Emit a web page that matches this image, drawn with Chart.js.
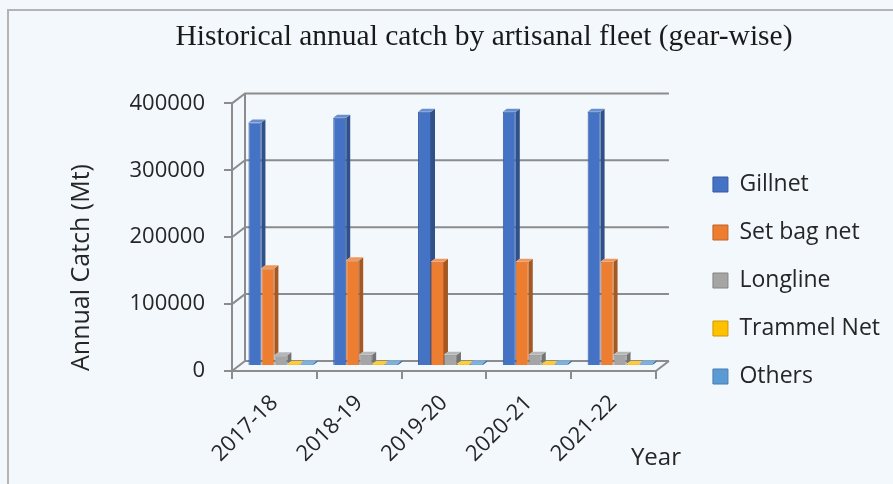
<!DOCTYPE html>
<html>
<head>
<meta charset="utf-8">
<title>Artisanal fleet catch</title>
<script src="https://cdn.jsdelivr.net/npm/chart.js@4.4.0/dist/chart.umd.min.js"></script>
<style>
  html, body { margin: 0; padding: 0; background: #f3f8fc; }
  #wrap { width: 893px; height: 484px; }
</style>
</head>
<body>
<div id="wrap"><canvas id="catchChart" width="893" height="484"></canvas></div>
<script>
const years = ["2017-18", "2018-19", "2019-20", "2020-21", "2021-22"];
const gillnet = [364000, 371000, 380000, 380000, 380000];
const setBagNet = [146000, 158000, 156000, 156000, 156000];
const longline = [16000, 17000, 17000, 17000, 17000];
const trammelNet = [3000, 3000, 3000, 3000, 3000];
const others = [4000, 4000, 4000, 4000, 4000];
const yTicks = [0, 100000, 200000, 300000, 400000];

// depth of the floor / back wall
const DX = 13, DY = -10;
const SANS = "'Open Sans', sans-serif";

function shade(hex, f) {
  const n = parseInt(hex.slice(1), 16);
  let r = (n >> 16) & 255, g = (n >> 8) & 255, b = n & 255;
  const m = c => Math.max(0, Math.min(255, Math.round(f > 0 ? c + (255 - c) * f : c * (1 + f))));
  return `rgb(${m(r)},${m(g)},${m(b)})`;
}

const walls3d = {
  id: "walls3d",
  beforeDraw(chart) {
    const ctx = chart.ctx;
    ctx.save();
    ctx.fillStyle = "#f3f8fc";
    ctx.fillRect(0, 0, chart.width, chart.height);
    ctx.strokeStyle = "#b4b4b4";
    ctx.lineWidth = 2;
    ctx.beginPath();
    ctx.moveTo(8, chart.height);
    ctx.lineTo(8, 10);
    ctx.lineTo(chart.width, 10);
    ctx.stroke();
    ctx.restore();
  },
  beforeDatasetsDraw(chart) {
    const ctx = chart.ctx;
    const y = chart.scales.y;
    const x = chart.scales.x;
    const l = x.left, r = x.right;
    ctx.save();
    ctx.strokeStyle = "#8c8c8c";
    ctx.lineWidth = 2;
    yTicks.forEach(v => {
      const py = y.getPixelForValue(v);
      ctx.beginPath();
      ctx.moveTo(l, py);
      ctx.lineTo(l + DX, py + DY);
      ctx.lineTo(r + DX, py + DY);
      ctx.stroke();
    });
    const top = y.getPixelForValue(400000), bot = y.getPixelForValue(0);
    ctx.beginPath();
    ctx.moveTo(l + DX, top + DY);
    ctx.lineTo(l + DX, bot + DY);
    ctx.moveTo(r, bot);
    ctx.lineTo(r + DX, bot + DY);
    ctx.stroke();
    ctx.restore();

    // bars stand halfway into the depth of the floor
    ctx.save();
    ctx.translate(DX / 2, DY / 2);
  },
  afterDatasetsDraw(chart) {
    const ctx = chart.ctx;
    const d = 4, dd = -3;
    const metas = chart.data.datasets.map((_, i) => chart.getDatasetMeta(i));
    years.forEach((_, j) => {
      metas.forEach((meta, i) => {
        const bar = meta.data[j];
        const color = chart.data.datasets[i].backgroundColor;
        const w = bar.width, lx = bar.x - w / 2, rx = bar.x + w / 2;
        const next = metas[i + 1] ? metas[i + 1].data[j] : null;
        const sideBottom = next ? Math.min(bar.base, next.y) : bar.base;
        if (sideBottom > bar.y) {
          ctx.fillStyle = shade(color, -0.3);
          ctx.beginPath();
          ctx.moveTo(rx, bar.y);
          ctx.lineTo(rx + d, bar.y + dd);
          ctx.lineTo(rx + d, sideBottom + dd);
          ctx.lineTo(rx, sideBottom);
          ctx.closePath();
          ctx.fill();
        }
        ctx.fillStyle = shade(color, 0.2);
        ctx.beginPath();
        ctx.moveTo(lx, bar.y);
        ctx.lineTo(rx, bar.y);
        ctx.lineTo(rx + d, bar.y + dd);
        ctx.lineTo(lx + d, bar.y + dd);
        ctx.closePath();
        ctx.fill();
      });
    });
    ctx.restore();
  },
  afterDraw(chart) {
    const ctx = chart.ctx;
    ctx.save();
    ctx.font = "24px " + SANS;
    ctx.fillStyle = "#262626";
    ctx.textAlign = "left";
    ctx.textBaseline = "middle";
    ctx.fillText("Year", chart.scales.x.right - 25, 458);
    ctx.restore();
  }
};

const series = [
  { label: "Gillnet", data: gillnet, color: "#4472c4" },
  { label: "Set bag net", data: setBagNet, color: "#ed7d31" },
  { label: "Longline", data: longline, color: "#a5a5a5" },
  { label: "Trammel Net", data: trammelNet, color: "#ffc000" },
  { label: "Others", data: others, color: "#5b9bd5" }
];

new Chart(document.getElementById("catchChart"), {
  type: "bar",
  data: {
    labels: years,
    datasets: series.map(s => ({
      label: s.label,
      data: s.data,
      backgroundColor: s.color,
      borderColor: shade(s.color, -0.2),
      borderWidth: 1,
      categoryPercentage: 0.765,
      barPercentage: 1
    }))
  },
  options: {
    responsive: false,
    animation: false,
    layout: { padding: { left: 78, right: 3, top: 0, bottom: 5 } },
    plugins: {
      title: {
        display: true,
        text: "Historical annual catch by artisanal fleet (gear-wise)",
        font: { family: "'Liberation Serif', serif", size: 29.5, weight: "normal" },
        color: "#1a1a1a",
        padding: { top: 20, bottom: 48 }
      },
      legend: {
        position: "right",
        align: "center",
        maxWidth: 210,
        // empty title block keeps the items below the chart title
        title: { display: true, text: " ", font: { size: 20 }, padding: { top: 58, bottom: 0 } },
        labels: {
          boxWidth: 15,
          boxHeight: 15,
          padding: 25,
          color: "#262626",
          font: { family: SANS, size: 23 }
        }
      },
      tooltip: { enabled: false }
    },
    scales: {
      x: {
        afterFit: s => { s.height = 108; },
        grid: { display: true, drawOnChartArea: false, tickLength: 8, color: "#8c8c8c", lineWidth: 2 },
        border: { display: true, color: "#8c8c8c", width: 2 },
        ticks: {
          minRotation: 45,
          maxRotation: 45,
          padding: 11,
          color: "#262626",
          font: { family: SANS, size: 22 }
        }
      },
      y: {
        min: 0,
        max: 400000,
        afterFit: s => { s.width = 154; },
        afterBuildTicks: s => { s.ticks = yTicks.map(v => ({ value: v })); },
        grid: { display: true, drawOnChartArea: false, tickLength: 8, color: "#8c8c8c", lineWidth: 2 },
        border: { display: true, color: "#8c8c8c", width: 2 },
        ticks: {
          padding: 19,
          color: "#262626",
          font: { family: SANS, size: 22 },
          callback: v => String(v)
        },
        title: {
          display: true,
          text: "Annual Catch (Mt)",
          align: "start",
          color: "#262626",
          font: { family: SANS, size: 25 },
          padding: { top: -11, bottom: 0 }
        }
      },
      gap: {
        position: "right",
        display: true,
        afterFit: s => { s.width = 32; },
        grid: { display: false },
        border: { display: false },
        ticks: { display: false }
      }
    }
  },
  plugins: [walls3d]
});
</script>
</body>
</html>
